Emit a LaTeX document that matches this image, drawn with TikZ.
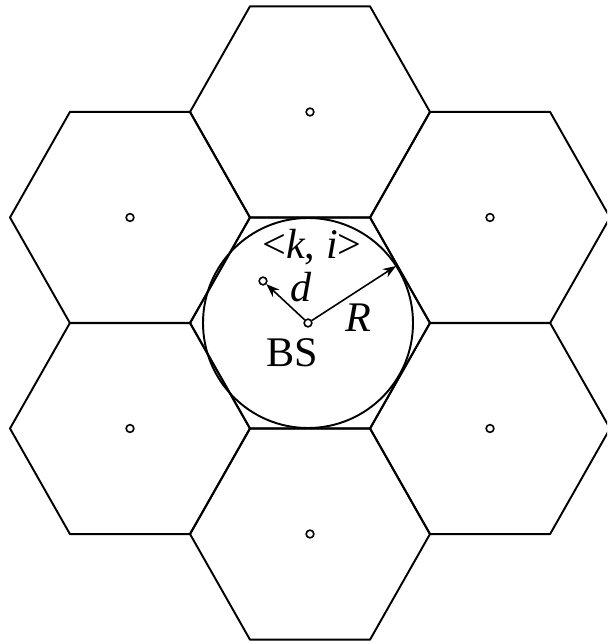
\documentclass[tikz,border=0pt]{standalone}
\usepackage{fontspec}
\setmainfont{Liberation Serif}
\usetikzlibrary{arrows.meta}

\tikzset{
  cell/.style={line width=1.1pt, line join=round},
  site/.style={circle, draw, line width=0.9pt, inner sep=0pt, minimum size=4.4pt, fill=white},
  lbl/.style={font=\fontsize{24}{28}\selectfont, inner sep=0pt}
}

\begin{document}
\begin{tikzpicture}[x=0.02cm, y=-0.02cm, >={Stealth[length=7.5pt, width=5.5pt]}]
  \useasboundingbox (0,0) rectangle (607,644);
  \clip (0,0) rectangle (607,644);
  % hexagonal cells
  \foreach \cx/\cy in {310/323, 310/112, 130/217.5, 490/217.5, 130/428.5, 490/428.5, 310/534}
    \draw[cell] ({\cx-120},\cy) -- ({\cx-60},{\cy-105.7}) -- ({\cx+60},{\cy-105.7})
      -- ({\cx+120},\cy) -- ({\cx+60},{\cy+105.7}) -- ({\cx-60},{\cy+105.7}) -- cycle;
  % base stations of the other cells
  \foreach \cx/\cy [count=\n] in {310/112, 130/217.5, 490/217.5, 130/428.5, 490/428.5, 310/534}
    \node[site] (bs\n) at (\cx,\cy) {};
  % centre cell
  \draw[cell] (308,323) circle (105);
  \node[site] (bs) at (308,323) {};
  \node[site] (user) at (263,281) {};
  \coordinate (rim) at (396,266);
  \draw[->, line width=0.9pt] (bs) -- (user);
  \draw[->, line width=0.9pt] (bs) -- (rim);
  \node[lbl] (userlbl) at (312,247) {<\textit{k}, \textit{i}>};
  \node[lbl] (dlbl) at (301,287) {\textit{d}};
  \node[lbl] (rlbl) at (358,318) {\textit{R}};
  \node[lbl] (bslbl) at (292,353) {BS};
\end{tikzpicture}
\end{document}
